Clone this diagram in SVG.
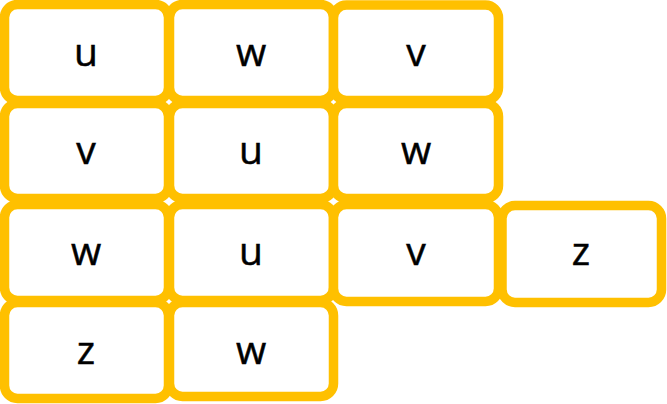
<svg xmlns="http://www.w3.org/2000/svg" width="667" height="404" viewBox="0 0 667 404">
<style>
.box{fill:#FFFFFF;stroke:#FFC000;stroke-width:9.5}
.lbl{font-family:"Open Sans","Liberation Sans",sans-serif;font-size:39px;fill:#000000;stroke:#000000;stroke-width:0.5;text-anchor:middle}
</style>
<rect width="667" height="404" fill="#FFFFFF"/>
<g id="n-r1c1"><rect class="box" x="4.5" y="4.5" width="164" height="96" rx="13"/><text class="lbl" x="86" y="66">u</text></g>
<g id="n-r1c2"><rect class="box" x="169.5" y="4.5" width="164" height="96" rx="13"/><text class="lbl" x="251" y="66">w</text></g>
<g id="n-r1c3"><rect class="box" x="333.5" y="5" width="165" height="95.5" rx="13"/><text class="lbl" x="416" y="66">v</text></g>
<g id="n-r2c1"><rect class="box" x="4.5" y="103.5" width="164" height="95" rx="13"/><text class="lbl" x="86" y="164">v</text></g>
<g id="n-r2c2"><rect class="box" x="169.5" y="103.5" width="164" height="95" rx="13"/><text class="lbl" x="251" y="164">u</text></g>
<g id="n-r2c3"><rect class="box" x="333.5" y="103.5" width="165" height="95" rx="13"/><text class="lbl" x="416" y="164">w</text></g>
<g id="n-r3c1"><rect class="box" x="4.5" y="204.5" width="164" height="96" rx="13"/><text class="lbl" x="86" y="265">w</text></g>
<g id="n-r3c2"><rect class="box" x="169.5" y="204.5" width="164" height="96" rx="13"/><text class="lbl" x="251" y="265">u</text></g>
<g id="n-r3c3"><rect class="box" x="333.5" y="204.5" width="165" height="97" rx="13"/><text class="lbl" x="416" y="265">v</text></g>
<g id="n-r3c4"><rect class="box" x="502" y="205.5" width="159.5" height="97" rx="13"/><text class="lbl" x="581" y="265">z</text></g>
<g id="n-r4c1"><rect class="box" x="4.5" y="302.5" width="164" height="96" rx="13"/><text class="lbl" x="86" y="364">z</text></g>
<g id="n-r4c2"><rect class="box" x="169.5" y="302.5" width="164" height="94" rx="13"/><text class="lbl" x="251" y="364">w</text></g>
</svg>
